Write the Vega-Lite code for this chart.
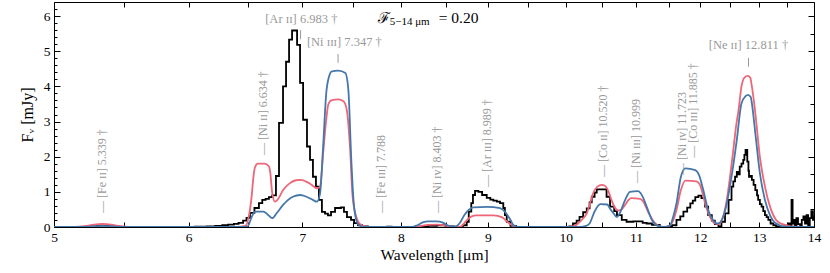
{
  "$schema": "https://vega.github.io/schema/vega-lite/v6.json",
  "width": 760,
  "height": 225,
  "autosize": "none",
  "padding": {"left": 54, "top": 2, "right": 16, "bottom": 46},
  "background": "white",
  "config": {
    "view": {"stroke": "#000000", "strokeWidth": 1},
    "font": "Liberation Serif"
  },
  "datasets": {
    "obs": [
      {"w":5.0,"f":0},{"w":5.24,"f":0.02},{"w":5.30,"f":0.04},{"w":5.38,"f":0.02},{"w":5.45,"f":0},
      {"w":6.05,"f":0.01},{"w":6.15,"f":0.02},{"w":6.22,"f":0.03},{"w":6.28,"f":0.05},{"w":6.33,"f":0.07},
      {"w":6.38,"f":0.09},{"w":6.42,"f":0.12},{"w":6.46,"f":0.18},{"w":6.49,"f":0.26},{"w":6.52,"f":0.4},
      {"w":6.56,"f":0.54},{"w":6.60,"f":0.68},{"w":6.63,"f":0.77},{"w":6.66,"f":0.8},{"w":6.69,"f":0.85},
      {"w":6.72,"f":0.9},{"w":6.754,"f":1.45},{"w":6.782,"f":2.96},{"w":6.819,"f":4.0},{"w":6.847,"f":4.7},
      {"w":6.875,"f":5.33},{"w":6.903,"f":5.59},{"w":6.95,"f":5.18},{"w":6.978,"f":4.1},{"w":7.007,"f":3.05},
      {"w":7.044,"f":2.29},{"w":7.073,"f":1.91},{"w":7.101,"f":1.43},{"w":7.13,"f":1.15},{"w":7.159,"f":0.77},
      {"w":7.188,"f":0.43},{"w":7.218,"f":0.38},{"w":7.247,"f":0.33},{"w":7.277,"f":0.43},{"w":7.317,"f":0.54},
      {"w":7.376,"f":0.56},{"w":7.406,"f":0.43},{"w":7.436,"f":0.28},{"w":7.477,"f":0.2},{"w":7.508,"f":0.11},
      {"w":7.549,"f":0.05},{"w":7.59,"f":0.02},{"w":7.65,"f":0},{"w":7.85,"f":0.01},{"w":7.9,"f":0},
      {"w":8.2,"f":0.01},{"w":8.3,"f":0.03},{"w":8.4,"f":0.05},{"w":8.5,"f":0.02},{"w":8.6,"f":0},
      {"w":8.70,"f":0.05},{"w":8.746,"f":0.15},{"w":8.77,"f":0.44},{"w":8.80,"f":0.68},{"w":8.82,"f":0.91},
      {"w":8.845,"f":1.03},{"w":8.885,"f":1.0},{"w":8.93,"f":0.91},{"w":8.986,"f":0.83},{"w":9.03,"f":0.78},
      {"w":9.067,"f":0.75},{"w":9.11,"f":0.72},{"w":9.15,"f":0.68},{"w":9.19,"f":0.54},{"w":9.21,"f":0.34},
      {"w":9.233,"f":0.15},{"w":9.28,"f":0.03},{"w":9.35,"f":0},
      {"w":10.05,"f":0.02},{"w":10.10,"f":0.1},{"w":10.15,"f":0.18},{"w":10.19,"f":0.29},{"w":10.24,"f":0.42},
      {"w":10.29,"f":0.53},{"w":10.33,"f":0.7},{"w":10.36,"f":0.86},{"w":10.40,"f":0.98},{"w":10.43,"f":1.07},
      {"w":10.57,"f":0.86},{"w":10.62,"f":0.58},{"w":10.68,"f":0.45},{"w":10.72,"f":0.34},{"w":10.79,"f":0.2},
      {"w":10.86,"f":0.15},{"w":10.96,"f":0.16},{"w":11.1,"f":0.12},{"w":11.16,"f":0.1},{"w":11.24,"f":0.06},
      {"w":11.36,"f":0},{"w":11.55,"f":0.05},{"w":11.62,"f":0.2},{"w":11.68,"f":0.3},{"w":11.73,"f":0.44},
      {"w":11.79,"f":0.55},{"w":11.84,"f":0.67},{"w":11.88,"f":0.75},{"w":11.92,"f":0.85},{"w":11.97,"f":0.89},
      {"w":12.02,"f":0.82},{"w":12.08,"f":0.58},{"w":12.13,"f":0.34},{"w":12.19,"f":0.18},{"w":12.24,"f":0.08},
      {"w":12.30,"f":0.02},{"w":12.35,"f":0.15},{"w":12.41,"f":0.39},{"w":12.47,"f":0.77},{"w":12.52,"f":1.15},
      {"w":12.55,"f":1.3},{"w":12.58,"f":1.43},{"w":12.61,"f":1.57},{"w":12.63,"f":1.5},{"w":12.66,"f":1.72},
      {"w":12.69,"f":1.8},{"w":12.72,"f":1.91},{"w":12.74,"f":2.05},{"w":12.76,"f":2.19},{"w":12.79,"f":1.86},
      {"w":12.81,"f":1.6},{"w":12.82,"f":1.43},{"w":12.85,"f":1.45},{"w":12.87,"f":1.34},{"w":12.90,"f":1.2},
      {"w":12.93,"f":1.05},{"w":12.96,"f":0.9},{"w":12.98,"f":0.77},{"w":13.01,"f":0.65},{"w":13.04,"f":0.58},
      {"w":13.07,"f":0.45},{"w":13.10,"f":0.34},{"w":13.13,"f":0.28},{"w":13.16,"f":0.2},{"w":13.2,"f":0.1},
      {"w":13.25,"f":0.05},{"w":13.3,"f":0.02},{"w":13.37,"f":0},{"w":13.45,"f":0.02},{"w":13.52,"f":0.1},
      {"w":13.55,"f":0.05},{"w":13.58,"f":0.77},{"w":13.60,"f":0.1},{"w":13.62,"f":0.2},{"w":13.64,"f":0.05},
      {"w":13.67,"f":0.25},{"w":13.70,"f":0.08},{"w":13.74,"f":0.05},{"w":13.77,"f":0.2},{"w":13.80,"f":0.3},
      {"w":13.83,"f":0.1},{"w":13.86,"f":0.34},{"w":13.89,"f":0.05},{"w":13.92,"f":0.25},{"w":13.95,"f":0.45},
      {"w":13.98,"f":0.2},{"w":14.0,"f":0.3}
    ],
    "red": [
      {"w":5.0,"f":0},{"w":5.15,"f":0},{"w":5.22,"f":0.03},{"w":5.28,"f":0.07},{"w":5.34,"f":0.085},
      {"w":5.40,"f":0.07},{"w":5.46,"f":0.03},{"w":5.53,"f":0},{"w":6.40,"f":0},{"w":6.48,"f":0.03},
      {"w":6.51,"f":0.3},{"w":6.536,"f":0.9},{"w":6.55,"f":1.4},{"w":6.565,"f":1.7},{"w":6.59,"f":1.8},
      {"w":6.65,"f":1.8},{"w":6.69,"f":1.72},{"w":6.70,"f":1.6},{"w":6.72,"f":0.97},{"w":6.745,"f":0.72},
      {"w":6.77,"f":0.78},{"w":6.82,"f":1.05},{"w":6.88,"f":1.24},{"w":6.94,"f":1.33},{"w":6.98,"f":1.34},
      {"w":7.03,"f":1.3},{"w":7.07,"f":1.24},{"w":7.11,"f":1.15},{"w":7.14,"f":1.1},{"w":7.17,"f":1.15},
      {"w":7.20,"f":2.1},{"w":7.23,"f":3.05},{"w":7.25,"f":3.48},{"w":7.28,"f":3.6},{"w":7.35,"f":3.63},
      {"w":7.40,"f":3.58},{"w":7.43,"f":3.39},{"w":7.47,"f":2.1},{"w":7.49,"f":0.97},{"w":7.52,"f":0.39},
      {"w":7.55,"f":0.15},{"w":7.57,"f":0.08},{"w":7.62,"f":0.02},{"w":7.68,"f":0},{"w":8.15,"f":0},
      {"w":8.22,"f":0.03},{"w":8.30,"f":0.06},{"w":8.40,"f":0.07},{"w":8.48,"f":0.05},{"w":8.55,"f":0.01},
      {"w":8.62,"f":0},{"w":8.68,"f":0.02},{"w":8.72,"f":0.12},{"w":8.77,"f":0.25},{"w":8.85,"f":0.33},
      {"w":9.07,"f":0.33},{"w":9.17,"f":0.28},{"w":9.24,"f":0.15},{"w":9.30,"f":0.05},{"w":9.36,"f":0},
      {"w":10.05,"f":0},{"w":10.12,"f":0.03},{"w":10.17,"f":0.1},{"w":10.23,"f":0.22},{"w":10.29,"f":0.39},
      {"w":10.34,"f":0.7},{"w":10.38,"f":0.96},{"w":10.44,"f":1.15},{"w":10.50,"f":1.2},{"w":10.54,"f":1.18},
      {"w":10.57,"f":1.12},{"w":10.60,"f":1.0},{"w":10.64,"f":0.77},{"w":10.69,"f":0.55},{"w":10.74,"f":0.47},
      {"w":10.77,"f":0.48},{"w":10.84,"f":0.63},{"w":10.89,"f":0.77},{"w":10.93,"f":0.82},{"w":11.06,"f":0.8},
      {"w":11.11,"f":0.72},{"w":11.18,"f":0.44},{"w":11.27,"f":0.15},{"w":11.35,"f":0.03},{"w":11.42,"f":0},
      {"w":11.50,"f":0.02},{"w":11.56,"f":0.15},{"w":11.62,"f":0.48},{"w":11.69,"f":1.05},{"w":11.76,"f":1.32},
      {"w":11.94,"f":1.3},{"w":11.99,"f":1.22},{"w":12.04,"f":0.95},{"w":12.08,"f":0.67},{"w":12.16,"f":0.29},
      {"w":12.24,"f":0.1},{"w":12.30,"f":0.08},{"w":12.36,"f":0.2},{"w":12.44,"f":0.77},{"w":12.50,"f":1.5},
      {"w":12.55,"f":2.19},{"w":12.60,"f":2.9},{"w":12.64,"f":3.33},{"w":12.69,"f":4.0},{"w":12.74,"f":4.25},
      {"w":12.80,"f":4.3},{"w":12.84,"f":4.25},{"w":12.87,"f":4.0},{"w":12.93,"f":3.24},{"w":13.01,"f":2.0},
      {"w":13.10,"f":1.15},{"w":13.19,"f":0.58},{"w":13.30,"f":0.2},{"w":13.40,"f":0.09},{"w":13.47,"f":0.06},
      {"w":13.6,"f":0.01},{"w":14.0,"f":0}
    ],
    "blue": [
      {"w":5.0,"f":0},{"w":5.2,"f":0},{"w":5.27,"f":0.02},{"w":5.34,"f":0.03},{"w":5.41,"f":0.02},
      {"w":5.48,"f":0},{"w":6.45,"f":0},{"w":6.50,"f":0.02},{"w":6.536,"f":0.29},{"w":6.565,"f":0.44},
      {"w":6.64,"f":0.44},{"w":6.68,"f":0.35},{"w":6.72,"f":0.25},{"w":6.76,"f":0.39},{"w":6.82,"f":0.63},
      {"w":6.91,"f":0.86},{"w":6.98,"f":0.91},{"w":7.04,"f":0.86},{"w":7.10,"f":0.77},{"w":7.14,"f":0.72},
      {"w":7.17,"f":0.96},{"w":7.20,"f":2.3},{"w":7.23,"f":3.8},{"w":7.26,"f":4.3},{"w":7.28,"f":4.42},
      {"w":7.35,"f":4.45},{"w":7.42,"f":4.38},{"w":7.45,"f":3.9},{"w":7.48,"f":1.9},{"w":7.50,"f":0.85},
      {"w":7.53,"f":0.2},{"w":7.56,"f":0.05},{"w":7.62,"f":0},{"w":8.12,"f":0},{"w":8.18,"f":0.05},
      {"w":8.24,"f":0.13},{"w":8.30,"f":0.16},{"w":8.40,"f":0.16},{"w":8.46,"f":0.13},{"w":8.52,"f":0.05},
      {"w":8.58,"f":0.01},{"w":8.62,"f":0.02},{"w":8.66,"f":0.1},{"w":8.72,"f":0.35},{"w":8.75,"f":0.44},
      {"w":8.83,"f":0.56},{"w":8.99,"f":0.57},{"w":9.15,"f":0.54},{"w":9.21,"f":0.44},{"w":9.28,"f":0.2},
      {"w":9.32,"f":0.05},{"w":9.38,"f":0},{"w":10.20,"f":0},{"w":10.28,"f":0.03},{"w":10.33,"f":0.1},
      {"w":10.40,"f":0.44},{"w":10.48,"f":0.65},{"w":10.58,"f":0.64},{"w":10.62,"f":0.52},{"w":10.67,"f":0.39},
      {"w":10.72,"f":0.28},{"w":10.76,"f":0.39},{"w":10.84,"f":0.77},{"w":10.91,"f":1.0},{"w":11.03,"f":1.02},
      {"w":11.09,"f":0.9},{"w":11.16,"f":0.58},{"w":11.24,"f":0.2},{"w":11.33,"f":0.03},{"w":11.42,"f":0},
      {"w":11.52,"f":0.05},{"w":11.57,"f":0.3},{"w":11.62,"f":0.67},{"w":11.69,"f":1.43},{"w":11.76,"f":1.67},
      {"w":11.92,"f":1.62},{"w":11.98,"f":1.48},{"w":12.05,"f":1.05},{"w":12.13,"f":0.48},{"w":12.21,"f":0.2},
      {"w":12.27,"f":0.1},{"w":12.32,"f":0.12},{"w":12.38,"f":0.3},{"w":12.44,"f":0.67},{"w":12.52,"f":1.43},
      {"w":12.61,"f":2.48},{"w":12.69,"f":3.52},{"w":12.76,"f":3.72},{"w":12.80,"f":3.76},{"w":12.85,"f":3.7},
      {"w":12.87,"f":3.52},{"w":12.93,"f":2.67},{"w":13.01,"f":1.53},{"w":13.10,"f":0.77},{"w":13.19,"f":0.34},
      {"w":13.30,"f":0.1},{"w":13.47,"f":0.01},{"w":14.0,"f":0}
    ],
    "vlabels": [
      {"w":5.339,"y":0.40,"t":"— [Fe ɪɪ] 5.339 †"},
      {"w":6.634,"y":2.05,"t":"— [Ni ɪɪ] 6.634 †"},
      {"w":7.788,"y":0.40,"t":"— [Fe ɪɪɪ] 7.788"},
      {"w":8.403,"y":0.40,"t":"— [Ni ɪᴠ] 8.403 †"},
      {"w":8.989,"y":1.14,"t":"— [Ar ɪɪɪ] 8.989 †"},
      {"w":10.520,"y":1.42,"t":"— [Co ɪɪ] 10.520 †"},
      {"w":10.999,"y":1.25,"t":"— [Ni ɪɪɪ] 10.999"},
      {"w":11.70,"y":1.48,"t":"— [Ni ɪᴠ] 11.723"},
      {"w":11.885,"y":1.97,"t":"— [Co ɪɪɪ] 11.885 †"}
    ],
    "hlabels": [
      {"w":6.983,"y1":5.34,"y2":5.6,"tx":6.99,"ty":5.93,"t":"[Ar ɪɪ] 6.983 †"},
      {"w":7.347,"y1":4.67,"y2":4.92,"tx":7.41,"ty":5.26,"t":"[Ni ɪɪɪ] 7.347 †"},
      {"w":12.811,"y1":4.56,"y2":4.81,"tx":12.81,"ty":5.17,"t":"[Ne ɪɪ] 12.811 †"}
    ],
    "ann": [{"w":7.756,"y":5.95,"t":"ℱ","w2":7.88,"y2":5.82,"t2":"5−14 μm","w3":8.42,"t3":"= 0.20"}]
  },
  "layer": [
    {
      "data": {"name": "obs"},
      "mark": {"type": "line", "interpolate": "step-after", "color": "#000000", "strokeWidth": 1.8, "clip": true},
      "encoding": {
        "x": {"field": "w", "type": "quantitative",
              "scale": {"type": "log", "domain": [5, 14], "nice": false, "zero": false},
              "axis": {"orient": "bottom", "title": "Wavelength [μm]",
                       "values": [5,5.5,6,6.5,7,7.5,8,8.5,9,9.5,10,10.5,11,11.5,12,12.5,13,13.5,14],
                       "labelExpr": "datum.value % 1 === 0 ? toString(datum.value) : ''",
                       "tickSize": -5, "tickColor": "#000", "tickWidth": 1, "labelPadding": 8,
                       "domain": false, "grid": false, "labelFont": "Liberation Serif", "labelFontSize": 13.5,
                       "labelColor": "#000", "labelFlush": false, "labelOverlap": false,
                       "titleFont": "Liberation Serif", "titleFontSize": 15.5, "titleFontWeight": "normal",
                       "titleColor": "#000", "titlePadding": 4}},
        "y": {"field": "f", "type": "quantitative",
              "scale": {"domain": [0, 6.4], "nice": false},
              "axis": {"orient": "left", "title": "Fᵥ [mJy]",
                       "values": [0,0.2,0.4,0.6,0.8,1,1.2,1.4,1.6,1.8,2,2.2,2.4,2.6,2.8,3,3.2,3.4,3.6,3.8,4,4.2,4.4,4.6,4.8,5,5.2,5.4,5.6,5.8,6,6.2,6.4],
                       "labelExpr": "datum.value % 1 === 0 ? toString(datum.value) : ''",
                       "tickSize": {"condition": {"test": "datum.value % 1 === 0", "value": -6}, "value": -3},
                       "tickColor": "#000", "labelPadding": 10,
                       "domain": false, "grid": false, "labelFont": "Liberation Serif", "labelFontSize": 13.5,
                       "labelColor": "#000", "labelFlush": false, "labelOverlap": false,
                       "titleFont": "Liberation Serif", "titleFontSize": 16, "titleFontWeight": "normal",
                       "titleColor": "#000", "titlePadding": 8}}
      }
    },
    {
      "data": {"name": "red"},
      "mark": {"type": "line", "interpolate": "monotone", "color": "#EE6677", "strokeWidth": 1.8, "clip": true},
      "encoding": {
        "x": {"field": "w", "type": "quantitative",
              "axis": {"orient": "top", "title": null, "labels": false, "domain": false, "grid": false,
                       "values": [5,5.5,6,6.5,7,7.5,8,8.5,9,9.5,10,10.5,11,11.5,12,12.5,13,13.5,14],
                       "tickSize": -5, "tickColor": "#000"}},
        "y": {"field": "f", "type": "quantitative",
              "axis": {"orient": "right", "title": null, "labels": false, "domain": false, "grid": false,
                       "values": [0,0.5,1,1.5,2,2.5,3,3.5,4,4.5,5,5.5,6],
                       "tickSize": {"condition": {"test": "datum.value % 1 === 0", "value": -6}, "value": -4},
                       "tickColor": "#000"}}
      }
    },
    {
      "data": {"name": "blue"},
      "mark": {"type": "line", "interpolate": "monotone", "color": "#4477AA", "strokeWidth": 1.8, "clip": true},
      "encoding": {
        "x": {"field": "w", "type": "quantitative", "axis": null},
        "y": {"field": "f", "type": "quantitative", "axis": null}
      }
    },
    {
      "data": {"name": "hlabels"},
      "mark": {"type": "rule", "color": "#999999", "strokeWidth": 1},
      "encoding": {
        "x": {"field": "w", "type": "quantitative", "axis": null},
        "y": {"field": "y1", "type": "quantitative", "axis": null},
        "y2": {"field": "y2"}
      }
    },
    {
      "data": {"name": "hlabels"},
      "mark": {"type": "text", "color": "#999999", "fontSize": 12.5, "font": "Liberation Serif", "align": "center", "baseline": "middle"},
      "encoding": {
        "x": {"field": "tx", "type": "quantitative", "axis": null},
        "y": {"field": "ty", "type": "quantitative", "axis": null},
        "text": {"field": "t"}
      }
    },
    {
      "data": {"name": "vlabels"},
      "mark": {"type": "text", "color": "#999999", "fontSize": 12, "font": "Liberation Serif", "align": "left", "baseline": "middle", "angle": 270},
      "encoding": {
        "x": {"field": "w", "type": "quantitative", "axis": null},
        "y": {"field": "y", "type": "quantitative", "axis": null},
        "text": {"field": "t"}
      }
    },
    {
      "data": {"name": "ann"},
      "mark": {"type": "text", "color": "#000", "fontSize": 15, "font": "DejaVu Serif", "align": "left", "baseline": "middle"},
      "encoding": {
        "x": {"field": "w", "type": "quantitative", "axis": null},
        "y": {"field": "y", "type": "quantitative", "axis": null},
        "text": {"field": "t"}
      }
    },
    {
      "data": {"name": "ann"},
      "mark": {"type": "text", "color": "#000", "fontSize": 11, "font": "Liberation Serif", "align": "left", "baseline": "middle"},
      "encoding": {
        "x": {"field": "w2", "type": "quantitative", "axis": null},
        "y": {"field": "y2", "type": "quantitative", "axis": null},
        "text": {"field": "t2"}
      }
    },
    {
      "data": {"name": "ann"},
      "mark": {"type": "text", "color": "#000", "fontSize": 15.5, "font": "Liberation Serif", "align": "left", "baseline": "middle"},
      "encoding": {
        "x": {"field": "w3", "type": "quantitative", "axis": null},
        "y": {"field": "y", "type": "quantitative", "axis": null},
        "text": {"field": "t3"}
      }
    }
  ],
  "resolve": {"axis": {"x": "independent", "y": "independent"}}
}
